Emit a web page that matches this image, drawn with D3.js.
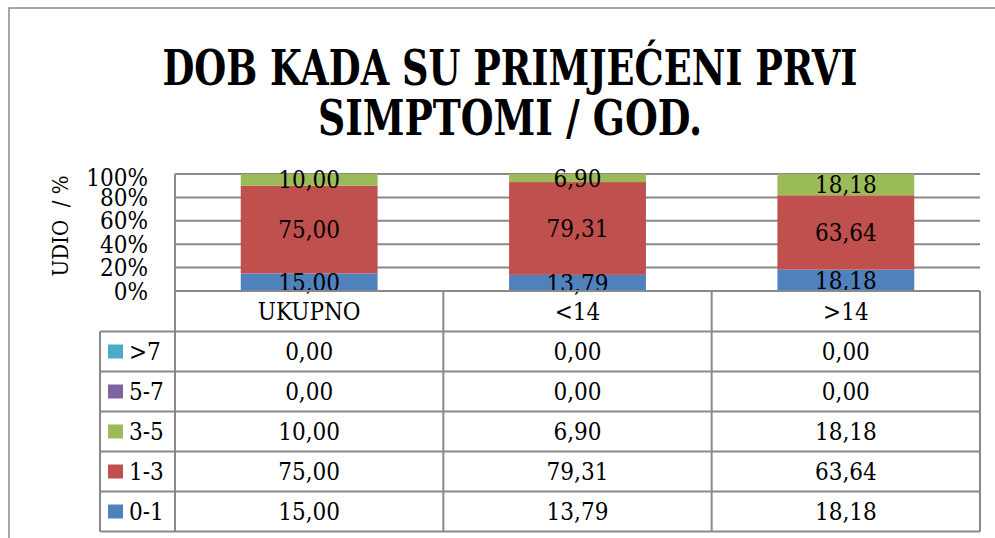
<!DOCTYPE html>
<html>
<head>
<meta charset="utf-8">
<script src="https://cdn.jsdelivr.net/npm/d3@7"></script>
<style>
  body { margin: 0; background: #fff; }
  svg text { font-family: "DejaVu Serif Condensed", "DejaVu Serif", serif; font-stretch: condensed; fill: #000; }
</style>
</head>
<body>
<svg id="chart" width="995" height="538"></svg>
<script>
// data
const categories = ["UKUPNO", "<14", ">14"];
const seriesNames = ["0-1", "1-3", "3-5", "5-7", ">7"];
const seriesColors = ["#4F81BD", "#C0504D", "#9BBB59", "#8064A2", "#4BACC6"];
const val01 = [15.00, 13.79, 18.18];
const val13 = [75.00, 79.31, 63.64];
const val35 = [10.00, 6.90, 18.18];
const val57 = [0.00, 0.00, 0.00];
const val7 = [0.00, 0.00, 0.00];
const yTicks = [0, 20, 40, 60, 80, 100];
const titleLines = ["DOB KADA SU PRIMJEĆENI PRVI", "SIMPTOMI / GOD."];
const yTitle = "UDIO  / %";

const seriesValues = [val01, val13, val35, val57, val7];

const svg = d3.select("#chart");
const gridColor = "#898989";
const fmt = d3.formatLocale({ decimal: ",", thousands: ".", grouping: [3], currency: ["", ""] }).format(".2f");

// outer frame
svg.append("path")
  .attr("d", "M9,540 L9,8 L998,8")
  .attr("fill", "none").attr("stroke", "#8a8a8a").attr("stroke-width", 1.5);

// title
const titleWidths = [695, 384];
titleLines.forEach((t, i) => {
  svg.append("text")
    .attr("x", 510).attr("y", 85 + i * 50)
    .attr("text-anchor", "middle")
    .attr("font-size", 48).attr("font-weight", "bold")
    .attr("textLength", titleWidths[i]).attr("lengthAdjust", "spacingAndGlyphs")
    .text(t);
});

const plotL = 175, plotR = 980, plotT = 174, plotB = 291;

const y = d3.scaleLinear().domain([0, 100]).range([plotB, plotT]);
const xCol = d3.scaleBand().domain(categories).range([plotL, plotR]).padding(0);
const x = d3.scaleBand().domain(categories).range([plotL, plotR])
  .paddingInner(0.49).paddingOuter(0.245);

// gridlines
svg.append("g").selectAll("line").data(yTicks.filter(d => d > 0)).join("line")
  .attr("x1", plotL).attr("x2", plotR)
  .attr("y1", d => y(d)).attr("y2", d => y(d))
  .attr("stroke", gridColor).attr("stroke-width", 2);

// stacked bars
const rows = categories.map((c, i) => {
  const r = { cat: c };
  seriesNames.forEach((s, k) => r[s] = seriesValues[k][i]);
  return r;
});
const stacked = d3.stack().keys(seriesNames)(rows);

const barG = svg.append("g");
stacked.forEach((layer, k) => {
  barG.selectAll(null).data(layer.filter(d => d[1] - d[0] > 0)).join("rect")
    .attr("x", d => x(d.data.cat))
    .attr("width", x.bandwidth())
    .attr("y", d => y(d[1]))
    .attr("height", d => y(d[0]) - y(d[1]))
    .attr("fill", seriesColors[k]);
});
stacked.forEach((layer, k) => {
  barG.selectAll(null).data(layer.filter(d => d[1] - d[0] > 0)).join("text")
    .attr("x", d => x(d.data.cat) + x.bandwidth() / 2)
    .attr("y", d => (y(d[0]) + y(d[1])) / 2)
    .attr("dy", "0.36em")
    .attr("text-anchor", "middle")
    .attr("font-size", 24)
    .text(d => fmt(d[1] - d[0]));
});

// y axis labels
svg.append("g").selectAll("text").data(yTicks).join("text")
  .attr("x", 148).attr("y", d => y(d) + (d === 100 ? 3 : 0))
  .attr("dy", "0.36em")
  .attr("text-anchor", "end")
  .attr("font-size", 24)
  .text(d => d + "%");

svg.append("text")
  .attr("transform", "translate(68,226) rotate(-90)")
  .attr("text-anchor", "middle")
  .attr("font-size", 22)
  .style("white-space", "pre")
  .text(yTitle);

// data table
const rowH = 40;
const headTop = plotB, tableTop = 331.5;
const tableRows = seriesNames.map((s, k) => ({ name: s, color: seriesColors[k], vals: seriesValues[k] })).reverse();
const legLeft = 100;
const tableBottom = tableTop + rowH * tableRows.length;

const tg = svg.append("g");
// header category labels
tg.selectAll(null).data(categories).join("text")
  .attr("x", d => xCol(d) + xCol.bandwidth() / 2)
  .attr("y", (headTop + tableTop) / 2)
  .attr("dy", "0.36em")
  .attr("text-anchor", "middle")
  .attr("font-size", 24)
  .text(d => d);

tableRows.forEach((r, i) => {
  const cy = tableTop + rowH * i + rowH / 2;
  tg.append("rect")
    .attr("x", 108).attr("y", cy - 7).attr("width", 15).attr("height", 14)
    .attr("fill", r.color);
  tg.append("text")
    .attr("x", 129).attr("y", cy).attr("dy", "0.36em")
    .attr("font-size", 24)
    .text(r.name);
  tg.selectAll(null).data(categories).join("text")
    .attr("x", d => xCol(d) + xCol.bandwidth() / 2)
    .attr("y", cy).attr("dy", "0.36em")
    .attr("text-anchor", "middle")
    .attr("font-size", 24)
    .text((d, j) => fmt(r.vals[j]));
});

// table lines
const hLines = d3.range(tableRows.length + 1).map(i => tableTop + rowH * i);
tg.selectAll(null).data(hLines).join("line")
  .attr("x1", legLeft).attr("x2", plotR)
  .attr("y1", d => d).attr("y2", d => d)
  .attr("stroke", gridColor).attr("stroke-width", 2);
// vertical lines
const vLines = [
  { x: legLeft, y1: tableTop, y2: tableBottom },
  { x: plotL, y1: plotT, y2: tableBottom },
  { x: xCol(categories[1]), y1: headTop, y2: tableBottom },
  { x: xCol(categories[2]), y1: headTop, y2: tableBottom },
  { x: plotR, y1: headTop, y2: tableBottom }
];
tg.selectAll(null).data(vLines).join("line")
  .attr("x1", d => d.x).attr("x2", d => d.x)
  .attr("y1", d => d.y1).attr("y2", d => d.y2)
  .attr("stroke", gridColor).attr("stroke-width", 2);
// category axis line
tg.append("line")
  .attr("x1", plotL).attr("x2", plotR)
  .attr("y1", y(0)).attr("y2", y(0))
  .attr("stroke", gridColor).attr("stroke-width", 2);
</script>
</body>
</html>
